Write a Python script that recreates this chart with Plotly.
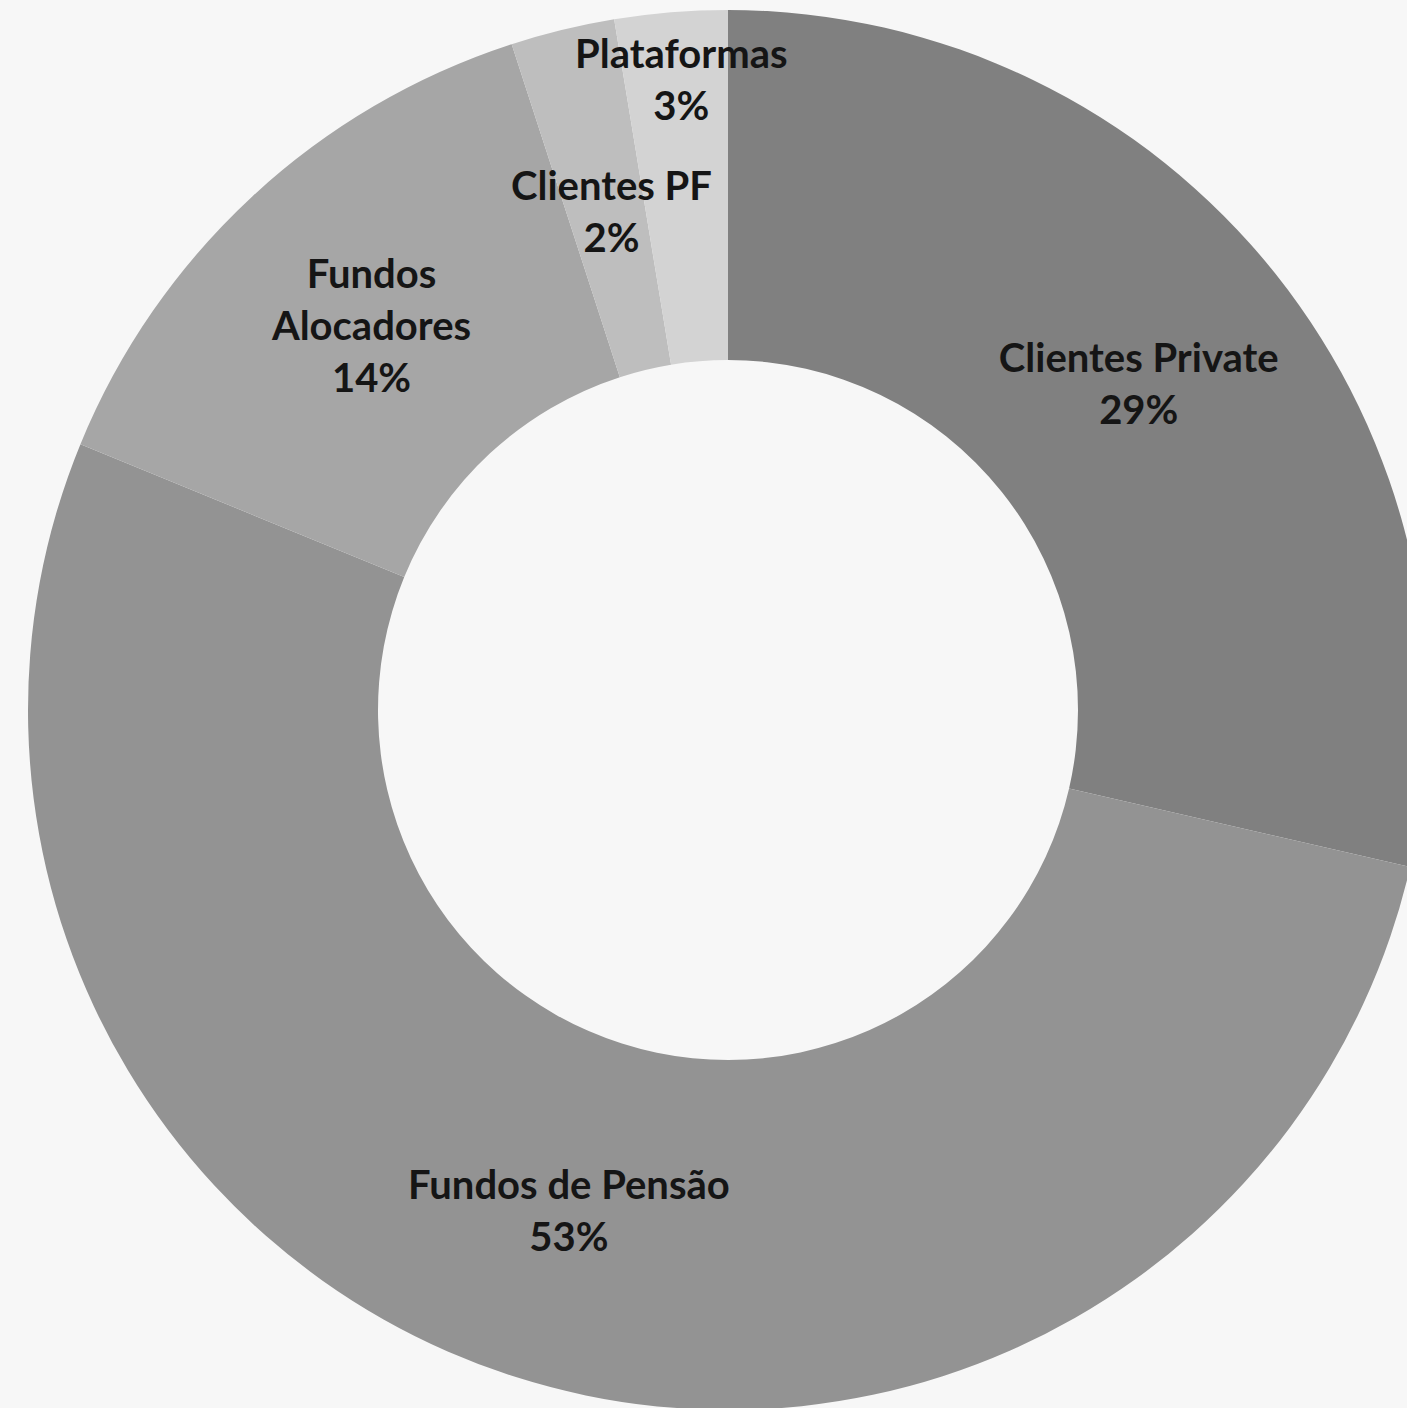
import plotly.graph_objects as go

labels = ["Clientes Private", "Fundos de Pensão", "Fundos Alocadores", "Clientes PF", "Plataformas"]
display_labels = ["Clientes Private", "Fundos de Pensão", "Fundos<br>Alocadores", "Clientes PF", "Plataformas"]
values = [28.6, 52.6, 13.8, 2.4, 2.6]
colors = ["#808080", "#939393", "#a6a6a6", "#bebebe", "#d3d3d3"]

W, H = 1456, 1420
FONT = dict(family="Lato", size=40, color="#151515", weight="bold")

# large slices: label inside via the pie; two thin slices: labels placed as annotations
templates = ["%{customdata}<br>%{percent:.0%}"] * 3 + ["", ""]

fig = go.Figure(go.Pie(
    labels=labels,
    values=values,
    customdata=display_labels,
    texttemplate=templates,
    textposition="inside",
    insidetextorientation="horizontal",
    hole=0.5,
    sort=False,
    direction="clockwise",
    rotation=0,
    marker=dict(colors=colors, line=dict(width=0)),
    textfont=FONT,
    showlegend=False,
    domain=dict(x=[0, 1], y=[10 / H, 1410 / H]),
))

total = sum(values)
small_label_pos = {3: (611, 211), 4: (681, 79)}
for i, (px, py) in small_label_pos.items():
    pct = round(values[i] / total * 100)
    fig.add_annotation(
        x=px / W, y=1 - py / H, xref="paper", yref="paper",
        xanchor="center", yanchor="middle",
        text=f"{display_labels[i]}<br>{pct}%",
        showarrow=False,
        font=FONT,
    )

fig.update_layout(
    width=W, height=H,
    margin=dict(l=0, r=0, t=0, b=0),
    paper_bgcolor="#f7f7f7",
    plot_bgcolor="#f7f7f7",
    uniformtext=dict(minsize=40, mode="show"),
)

fig.write_html(
    "out.html",
    config={"displayModeBar": False},
    post_script="document.body.style.margin='0';document.body.style.overflow='hidden';"
                "document.documentElement.style.overflow='hidden';",
)
